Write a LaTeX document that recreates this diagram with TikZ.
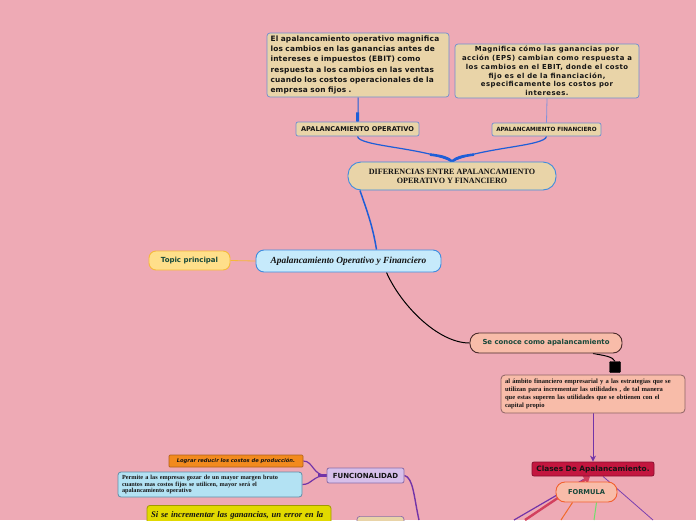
\documentclass[tikz,border=0pt]{standalone}
\usepackage{fontspec}
\setmainfont{Liberation Serif}
\newfontfamily\vsans{DejaVu Sans}
\newfontfamily\vsanstl{DejaVu Sans}[LetterSpace=3]
\newfontfamily\vsanstr{DejaVu Sans}[LetterSpace=7]
\usetikzlibrary{arrows.meta}
\pgfdeclarelayer{bglayer}
\pgfdeclarelayer{edges}
\pgfsetlayers{bglayer,edges,main}
\definecolor{bgpink}{HTML}{EEAAB5}
\definecolor{tanfill}{HTML}{E9D4A8}
\definecolor{tanborder}{HTML}{6E8ED2}
\definecolor{bluec}{HTML}{1E5ED8}
\definecolor{lightblueline}{HTML}{8292DA}
\definecolor{cenfill}{HTML}{C6EAFB}
\definecolor{cenborder}{HTML}{3C8CE0}
\definecolor{topfill}{HTML}{FFDF8A}
\definecolor{topborder}{HTML}{F6B93B}
\definecolor{dgreen}{HTML}{17483A}
\definecolor{salfill}{HTML}{F8BCA9}
\definecolor{salborder}{HTML}{4A2A2A}
\definecolor{ambborder}{HTML}{8E6464}
\definecolor{crimfill}{HTML}{C3163F}
\definecolor{crimborder}{HTML}{8A1030}
\definecolor{crimline}{HTML}{D2405E}
\definecolor{formborder}{HTML}{F2602E}
\definecolor{lavfill}{HTML}{D7BFEA}
\definecolor{lavborder}{HTML}{8A6CA8}
\definecolor{purpc}{HTML}{7234A8}
\definecolor{purpthin}{HTML}{7A40B0}
\definecolor{orfill}{HTML}{F28A1E}
\definecolor{orborder}{HTML}{B0601A}
\definecolor{pbfill}{HTML}{B3E2F3}
\definecolor{pbborder}{HTML}{5E8FA8}
\definecolor{yelfill}{HTML}{E2DA00}
\definecolor{yelborder}{HTML}{A09A00}
\definecolor{orline}{HTML}{F26A2A}
\definecolor{grline}{HTML}{6EE06A}
\definecolor{topicline}{HTML}{F5B83A}
\definecolor{txt}{HTML}{141414}
\begin{document}
\begin{tikzpicture}[x=1pt,y=-1pt,
  box/.style={draw, line width=0.7pt, inner sep=0pt, align=center, text=txt},
  tanbox/.style={box, fill=tanfill, draw=tanborder, rounded corners=3pt},
  bluelink/.style={draw=bluec, line width=1.2pt},
  purplelink/.style={draw=purpc, line width=1.2pt}]
\useasboundingbox (0,0) rectangle (696,520);
\begin{pgfonlayer}{bglayer}
\fill[bgpink] (0,0) rectangle (696,520);
\end{pgfonlayer}

% nodes
\node[tanbox, text width=175pt, inner xsep=3.5pt, align=left, minimum height=64pt,
  font=\vsanstl\bfseries\fontsize{7.4}{10.2}\selectfont] (tl) at (358,65)
  {El apalancamiento operativo magnifica\\los cambios en las ganancias antes de\\intereses e impuestos (EBIT) como\\respuesta a los cambios en las ventas\\cuando los costos operacionales de la\\empresa son fijos .};
\node[tanbox, minimum width=184pt, minimum height=54pt,
  font=\vsanstr\bfseries\fontsize{6.9}{8.7}\selectfont] (tr) at (547,71)
  {Magnifica cómo las ganancias por\\acción (EPS) cambian como respuesta a\\los cambios en el EBIT, donde el costo\\fijo es el de la financiación,\\especificamente los costos por\\intereses.};
\node[tanbox, rounded corners=2pt, minimum width=123pt, minimum height=14pt,
  font=\vsans\bfseries\fontsize{6.6}{7.5}\selectfont] (apop) at (357.5,129) {APALANCAMIENTO OPERATIVO};
\node[tanbox, rounded corners=2pt, minimum width=109pt, minimum height=13pt,
  font=\vsans\bfseries\fontsize{5.7}{6.5}\selectfont] (apfin) at (546.5,129.5) {APALANCAMIENTO FINANCIERO};
\node[box, fill=tanfill, draw=cenborder, line width=0.9pt, rounded corners=13pt,
  minimum width=208pt, minimum height=28pt,
  font=\bfseries\fontsize{8.1}{8.8}\selectfont] (dif) at (452,176)
  {DIFERENCIAS ENTRE APALANCAMIENTO\\OPERATIVO Y FINANCIERO};
\node[box, fill=cenfill, draw=cenborder, line width=0.9pt, rounded corners=8pt,
  minimum width=185pt, minimum height=22pt,
  font=\bfseries\itshape\fontsize{9.35}{10}\selectfont] (central) at (348.5,261)
  {Apalancamiento Operativo y Financiero};
\node[box, fill=topfill, draw=topborder, line width=0.9pt, rounded corners=7pt,
  minimum width=81pt, minimum height=19pt, text=dgreen,
  font=\vsans\bfseries\fontsize{7}{8}\selectfont] (topic) at (189.5,260.5) {Topic principal};
\node[box, fill=salfill, draw=salborder, line width=0.9pt, rounded corners=9pt,
  minimum width=152pt, minimum height=20pt, text=dgreen,
  font=\vsans\bfseries\fontsize{6.9}{8}\selectfont] (seconoce) at (546,343) {Se conoce como apalancamiento};
\node[fill=black, draw=black, minimum size=11pt, inner sep=0pt, rounded corners=1pt] (sq) at (615,367) {};
\node[box, fill=salfill, draw=ambborder, line width=0.8pt, rounded corners=4pt,
  text width=176pt, inner xsep=4pt, align=left, minimum height=38pt,
  font=\bfseries\fontsize{6.55}{8}\selectfont] (ambito) at (593,394)
  {al ámbito financiero empresarial y a las estrategias que se\\utilizan para incrementar las utilidades , de tal manera\\que estas superen las utilidades que se obtienen con el\\capital propio};
\node[box, fill=crimfill, draw=crimborder, line width=0.8pt, rounded corners=2pt,
  minimum width=122pt, minimum height=14pt,
  font=\vsans\bfseries\fontsize{7.4}{8}\selectfont] (clases) at (593,469) {Clases De Apalancamiento.};
\node[box, fill=salfill, draw=formborder, line width=0.9pt, rounded corners=9pt,
  minimum width=61pt, minimum height=20pt, text=dgreen,
  font=\vsans\bfseries\fontsize{6.7}{8}\selectfont] (formula) at (586.5,492) {FORMULA};
\node[box, fill=lavfill, draw=lavborder, line width=0.8pt, rounded corners=2pt,
  minimum width=77pt, minimum height=15pt,
  font=\vsans\bfseries\fontsize{7}{8}\selectfont] (funcional) at (365.5,475.5) {FUNCIONALIDAD};
\node[box, fill=orfill, draw=orborder, line width=0.7pt, rounded corners=1pt,
  minimum width=134pt, minimum height=12pt,
  font=\vsans\bfseries\itshape\fontsize{5.2}{6}\selectfont] (lograr) at (236,461) {Lograr reducir los costos de producción.};
\node[box, fill=pbfill, draw=pbborder, line width=0.8pt, rounded corners=3pt,
  text width=176pt, inner xsep=4pt, align=left, minimum height=25pt,
  font=\bfseries\fontsize{6.25}{6.7}\selectfont] (permite) at (210,484.5)
  {Permite a las empresas gozar de un mayor margen bruto\\cuantos mas costos fijos se utilicen, mayor será el\\apalancamiento operativo};
\node[box, fill=yelfill, draw=yelborder, line width=0.8pt, rounded corners=3pt, anchor=north,
  text width=176pt, inner xsep=4pt, inner ysep=3pt, align=left, minimum height=30pt,
  font=\bfseries\itshape\fontsize{8.6}{9.5}\selectfont] (yel) at (239,505)
  {Si se incrementar las ganancias, un error en la\\planificación o la ejecución puede generar};
\node[tanbox, draw=lavborder, anchor=north, minimum width=47pt, minimum height=20pt] (tanb) at (380.5,516) {};

% free ends
\coordinate (exf) at (419,520);
\coordinate (exp1) at (514,520);
\coordinate (exc) at (525,520);
\coordinate (exo) at (561,520);
\coordinate (exg) at (594,520);
\coordinate (exp2) at (653,520);

\begin{pgfonlayer}{edges}
% top
\draw[draw=bluec, line width=1pt] (tl.south) .. controls +(0,10) and +(1,-10) .. (apop.north);
\draw[draw=bluec, line width=3pt, shorten <=15pt] (tl.south) -- (apop.north);
\draw[draw=lightblueline, line width=0.8pt] (tr.south) -- (apfin.north);
\draw[bluelink] (apop.south) .. controls +(1,10) and +(-28,-14) .. (dif.north);
\draw[bluelink] (apfin.south) .. controls +(-1,10) and +(28,-14) .. (dif.north);
\draw[draw=bluec, line width=2.6pt] ([xshift=-22pt,yshift=7pt]dif.north) .. controls +(12,1.5) and +(-4,-4) .. (dif.north);
\draw[draw=bluec, line width=2.6pt] ([xshift=22pt,yshift=7pt]dif.north) .. controls +(-12,1.5) and +(4,-4) .. (dif.north);
% center
\draw[bluelink, line width=1.5pt] ([xshift=-92pt]dif.south) .. controls +(6,18) and +(-4,-25) .. ([xshift=28pt]central.north);
\draw[draw=topicline, line width=0.8pt] (topic.east) -- (central.west);
\draw[draw=black, line width=1pt] ([xshift=38pt]central.south) .. controls +(14,32) and +(-32,0) .. (seconoce.west);
\draw[draw=black, line width=1pt] ([xshift=47pt]seconoce.south) .. controls +(10,2) and +(-2,-5) .. (sq.north);
\draw[draw=purpc, line width=1pt, -{Stealth[length=6pt,width=6pt]}] (ambito.south) -- (clases.north);
% funcionalidad
\draw[purplelink] (funcional.west) .. controls +(-14,0) and +(10,0) .. (lograr.east);
\draw[purplelink] (funcional.west) .. controls +(-14,0) and +(10,0) .. (permite.east);
\draw[draw=purpc, line width=3pt] (funcional.west) -- +(-9,0);
\draw[purplelink, line width=1.4pt] (funcional.east) .. controls +(9,2) and +(-5,-22) .. (exf);
% clases
\draw[draw=purpc, line width=1.2pt] ([xshift=-4pt]clases.south) -- (exp1);
\draw[draw=crimline, line width=2.4pt, -{Triangle[length=6pt,width=9pt]}] (exc) -- ([xshift=-3pt]clases.south);
\draw[draw=purpthin, line width=0.8pt] ([xshift=10pt]clases.south) -- (exp2);
\draw[draw=orline, line width=1pt] ([xshift=-14pt]formula.south) -- (exo);
\draw[draw=grline, line width=1pt] ([xshift=10pt]formula.south) -- (exg);
\end{pgfonlayer}
\end{tikzpicture}
\end{document}
